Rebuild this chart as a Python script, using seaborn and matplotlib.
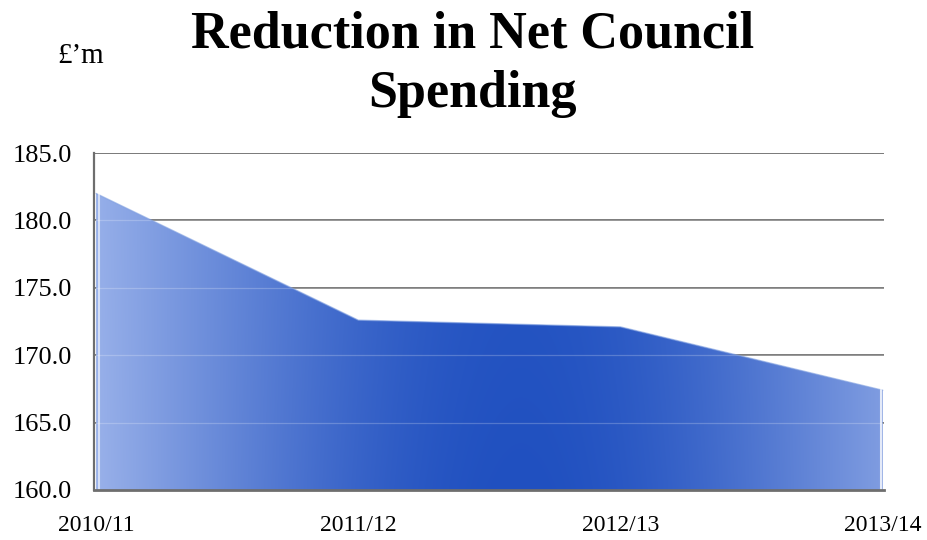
import numpy as np
import pandas as pd
import matplotlib
matplotlib.use("Agg")
import matplotlib.pyplot as plt
import seaborn as sns
from matplotlib.patches import Polygon

# Net council spending (£ millions) by financial year
years = ["2010/11", "2011/12", "2012/13", "2013/14"]
spending = [182.0, 172.6, 172.1, 167.4]
y_ticks = [160.0, 165.0, 170.0, 175.0, 180.0, 185.0]

df = pd.DataFrame({"pos": np.arange(len(years)), "year": years, "spending": spending})

sns.set_theme(style="white")
plt.rcParams["font.family"] = ["Liberation Serif", "DejaVu Serif"]
plt.rcParams["text.color"] = "black"
plt.rcParams["xtick.color"] = "black"
plt.rcParams["ytick.color"] = "black"

fig = plt.figure(figsize=(9.27, 5.4), dpi=100)
ax = fig.add_axes([0.1014, 0.0926, 0.852, 0.624])

ymin, ymax = y_ticks[0], y_ticks[-1]
xmin, xmax = df["pos"].min(), df["pos"].max()

# dark gridlines behind the area
for t in y_ticks[1:]:
    ax.axhline(t, color="#555555", lw=1.1, zorder=0)

# horizontal gradient: pale at the edges, deep blue in the middle
nx, ny = 400, 200
u = np.linspace(0, 1, nx)
v = np.linspace(0, 1, ny)[:, None]  # 0 = bottom, 1 = top
edge = np.array([172, 192, 240]) / 255.0
mid = np.array([32, 80, 192]) / 255.0
w = np.exp(-((u - 0.54) / 0.50) ** 2)
w = np.clip((w - 0.25) / 0.75, 0, 1) ** 0.8
img = edge[None, None, :] * (1 - w[None, :, None]) + mid[None, None, :] * w[None, :, None]
img = img * (1 - 0.10 * v[:, :, None]) + 0.10 * v[:, :, None] * np.array([0.45, 0.6, 0.9])
img = np.broadcast_to(img, (ny, nx, 3)).copy()

im = ax.imshow(img, extent=[xmin, xmax, ymin, ymax], origin="lower",
               aspect="auto", zorder=1, interpolation="bilinear")
verts = [(xmin, ymin)] + list(zip(df["pos"], df["spending"])) + [(xmax, ymin)]
clip = Polygon(verts, closed=True, transform=ax.transData, facecolor="none", edgecolor="none")
ax.add_patch(clip)
im.set_clip_path(clip)

# faint light gridlines seen through the fill
for t in y_ticks[1:-1]:
    ax.axhline(t, color="white", lw=0.9, alpha=0.22, zorder=2)

# soft outline along the top of the area
sns.lineplot(data=df, x="pos", y="spending", ax=ax, color="#7f9fe0",
             lw=1.0, alpha=0.6, zorder=3, legend=False)

# pale bevel highlights at both ends
ax.plot([xmin + 0.01, xmin + 0.01], [ymin, spending[0]], color="white", lw=1.5, alpha=0.6, zorder=3)
ax.plot([xmax - 0.005, xmax - 0.005], [ymin, spending[-1]], color="white", lw=1.5, alpha=0.8, zorder=3)

ax.set_xlim(xmin - 0.008, xmax + 0.004)
ax.set_ylim(ymin, ymax)
ax.set_yticks(y_ticks)
ax.set_yticklabels([f"{t:.1f}" for t in y_ticks], fontsize=19)
ax.set_xticks(df["pos"])
ax.set_xticklabels(years, fontsize=17)
ax.tick_params(axis="y", length=0, pad=16)
ax.tick_params(axis="x", length=0, pad=18)
ax.set_xlabel("")
ax.set_ylabel("")

for side in ["top", "right"]:
    ax.spines[side].set_visible(False)
ax.spines["left"].set_color("#6e6e6e")
ax.spines["left"].set_linewidth(1.6)
ax.spines["bottom"].set_color("#6e6e6e")
ax.spines["bottom"].set_linewidth(2.0)
ax.spines["bottom"].set_zorder(4)

fig.text(0.510, 1 - 47 / 540, "Reduction in Net Council", ha="center", va="baseline",
         fontsize=37.5, fontweight="bold")
fig.text(0.510, 1 - 107 / 540, "Spending", ha="center", va="baseline",
         fontsize=37.5, fontweight="bold")
fig.text(0.062, 1 - 63 / 540, "£’m", ha="left", va="baseline", fontsize=21)

fig.savefig("out.png", dpi=100)
